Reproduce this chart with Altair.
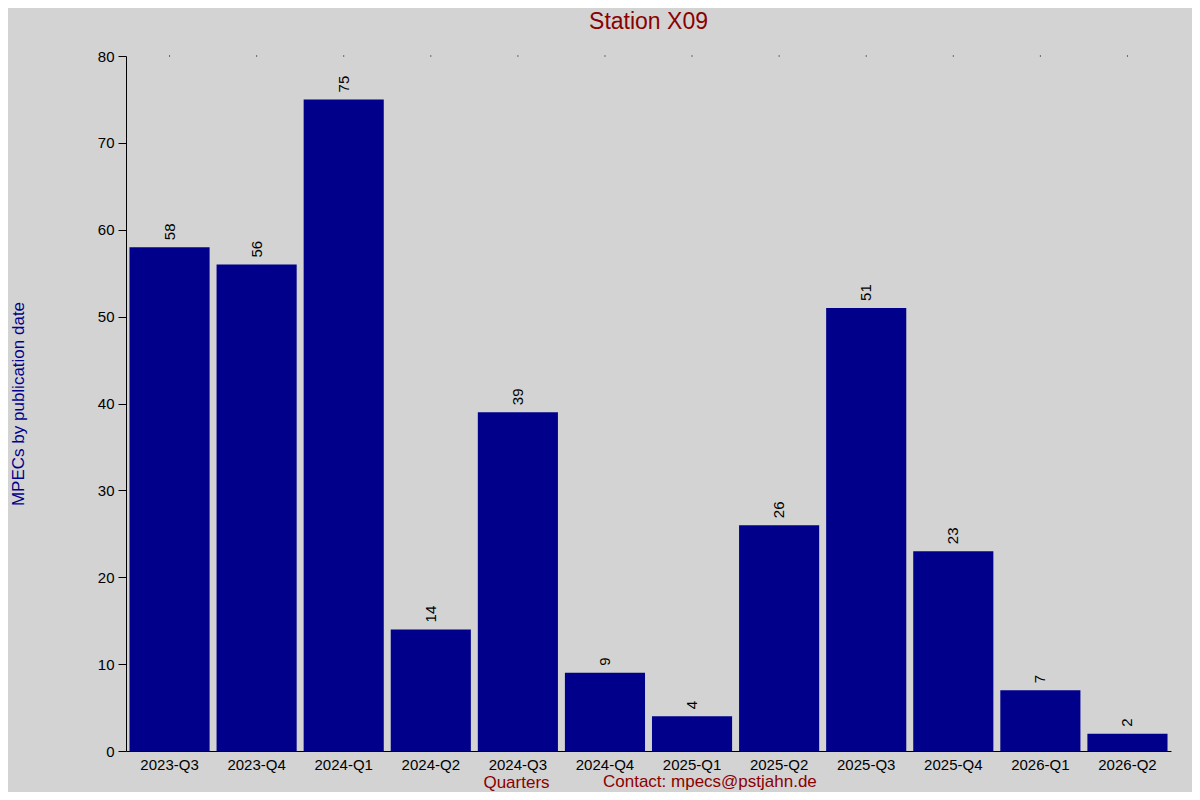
import altair as alt
import pandas as pd

quarters = ["2023-Q3", "2023-Q4", "2024-Q1", "2024-Q2", "2024-Q3", "2024-Q4",
            "2025-Q1", "2025-Q2", "2025-Q3", "2025-Q4", "2026-Q1", "2026-Q2"]
counts = [58, 56, 75, 14, 39, 9, 4, 26, 51, 23, 7, 2]

title_text = "Station X09"
y_title = "MPECs by publication date"
x_title = "Quarters"
contact = "Contact: mpecs@pstjahn.de"

df = pd.DataFrame({"quarter": quarters, "count": counts})

FONT = "Liberation Sans"
W, H = 1045, 695

x_enc = alt.X("quarter:N", sort=quarters,
              scale=alt.Scale(paddingInner=0.08, paddingOuter=0.04),
              axis=alt.Axis(title=x_title, labelAngle=0, ticks=False,
                            domainColor="black", labelColor="black",
                            labelFontSize=15, labelFont=FONT, labelPadding=6,
                            titleFont=FONT, titleFontSize=17, titleFontWeight="normal",
                            titleColor="#8B0000", titleX=390, titleY=31,
                            titleAlign="center", titleBaseline="middle"))
y_enc = alt.Y("count:Q", scale=alt.Scale(domain=[0, 80], nice=False, zero=True),
              axis=alt.Axis(title=y_title, values=list(range(0, 90, 10)), grid=False,
                            domainColor="black", tickColor="black", tickSize=8,
                            labelFontSize=15, labelFont=FONT, labelColor="black",
                            labelPadding=4,
                            titleFont=FONT, titleFontSize=17, titleFontWeight="normal",
                            titleColor="#00008B", titleAngle=-90, titleX=-108,
                            titleY=H / 2, titleAlign="center", titleBaseline="middle"))

base = alt.Chart(df)

bars = base.mark_bar(color="#00008B").encode(x=x_enc, y=y_enc)

labels = base.mark_text(angle=270, align="left", baseline="middle", dx=7,
                        fontSize=15, font=FONT, color="black").encode(
    x=alt.X("quarter:N", sort=quarters), y="count:Q", text="count:Q")

dots = base.mark_square(size=1, color="black", opacity=1).encode(
    x=alt.X("quarter:N", sort=quarters), y=alt.datum(80))

contact_txt = alt.Chart(pd.DataFrame({"t": [contact]})).mark_text(
    fontSize=17, font=FONT, color="#8B0000", align="left", baseline="middle").encode(
    x=alt.value(477), y=alt.value(H + 31), text="t:N")

chart = alt.layer(bars, labels, dots, contact_txt).properties(
    width=W, height=H,
    title=alt.TitleParams(title_text, font=FONT, fontSize=23, fontWeight="normal",
                          color="#8B0000", anchor="middle", offset=15),
    background="#d3d3d3",
    padding={"left": 118, "top": 48, "right": 21, "bottom": 41},
    autosize=alt.AutoSizeParams(type="none"),
).configure_view(stroke=None)

chart.save("out.html", embed_options={"renderer": "svg", "actions": False})
